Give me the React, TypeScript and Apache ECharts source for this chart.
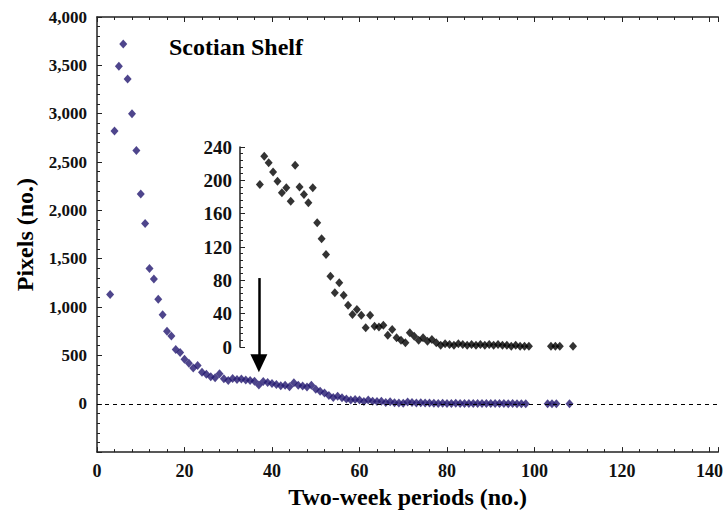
import React, { useEffect, useRef } from "react";
import * as echarts from "echarts";

// Two-week periods (x) and pixel counts (y)
const periods = [
  3, 4, 5, 6, 7, 8, 9, 10, 11, 12, 13, 14, 15, 16, 17, 18, 19, 20, 21, 22, 23, 24, 25, 26, 27, 28, 29, 30,
  31, 32, 33, 34, 35, 36, 37, 38, 39, 40, 41, 42, 43, 44, 45, 46, 47, 48, 49, 50, 51, 52, 53, 54, 55, 56,
  57, 58, 59, 60, 61, 62, 63, 64, 65, 66, 67, 68, 69, 70, 71, 72, 73, 74, 75, 76, 77, 78, 79, 80, 81, 82,
  83, 84, 85, 86, 87, 88, 89, 90, 91, 92, 93, 94, 95, 96, 97, 98, 103, 104, 105, 108,
];
const pixels = [
  1130, 2820, 3490, 3720, 3360, 3000, 2620, 2170, 1865, 1400, 1290, 1080, 920, 750, 700, 560, 530, 460, 420, 370,
  395, 325, 305, 280, 268, 310, 258, 240, 262, 250, 255, 245, 240, 232, 195, 229, 221, 210, 199, 185, 191, 175,
  218, 192, 183, 173, 191, 149, 130, 111, 85, 65, 77, 62, 50, 39, 45, 38, 23, 38, 25, 24, 26, 14, 21, 11, 8, 5,
  17, 13, 8, 11, 7, 9, 5, 2, 4, 3, 2, 4, 3, 2, 3, 2, 3, 2, 3, 2, 3, 2, 2, 1, 2, 1, 1, 1, 1, 1, 1, 1,
];
const insetStart = 37; // first period shown in the inset
const arrowPeriod = 37;
const arrowFrom = 1300;
const arrowTo = 420;

const mainYTicks = [-500, 0, 500, 1000, 1500, 2000, 2500, 3000, 3500, 4000];
const insetYTicks = [0, 40, 80, 120, 160, 200, 240];
const xTicks = [0, 20, 40, 60, 80, 100, 120, 140];

const FONT = "'Liberation Serif', 'Times New Roman', serif";

export default function App() {
  const ref = useRef<HTMLDivElement>(null);
  useEffect(() => {
    if (!ref.current) return;
    const chart = echarts.init(ref.current, undefined, { renderer: "svg" });
    const data = periods.map((p, i) => [p, pixels[i]]);
    const insetData = data.filter((d) => d[0] >= insetStart);
    const axisLineStyle = { color: "#222", width: 1.5 };
    const labelStyle = { fontFamily: FONT, fontWeight: "bold" as const, color: "#111" };
    chart.setOption({
      animation: false,
      backgroundColor: "#fff",
      title: {
        text: "Scotian Shelf",
        left: 164,
        top: 30,
        textStyle: { fontFamily: FONT, fontWeight: "bold", fontSize: 24, color: "#000" },
      },
      grid: [
        { left: 97, right: 3, top: 17, bottom: 58 },
        { left: 240, right: 3, top: 147, bottom: 167 },
      ],
      xAxis: [
        {
          type: "value",
          gridIndex: 0,
          min: xTicks[0],
          max: 142,
          interval: 20,
          name: "Two-week periods (no.)",
          nameLocation: "middle",
          nameGap: 27,
          nameTextStyle: { ...labelStyle, fontSize: 24, color: "#000" },
          axisLine: { show: true, onZero: false, lineStyle: axisLineStyle },
          axisTick: { show: true, inside: true, length: 5, lineStyle: { color: "#222" } },
          minorTick: { show: true, splitNumber: 5, length: 3, lineStyle: { color: "#222" } },
          splitLine: { show: false },
          axisLabel: {
            ...labelStyle,
            fontSize: 18,
            margin: 10,
            formatter: (v: number) => (xTicks.includes(v) ? String(v) : ""),
          },
        },
        {
          type: "value",
          gridIndex: 0,
          position: "top",
          min: xTicks[0],
          max: 142,
          interval: 20,
          axisLine: { show: true, onZero: false, lineStyle: axisLineStyle },
          axisTick: { show: true, inside: true, length: 5, lineStyle: { color: "#222" } },
          minorTick: { show: true, splitNumber: 5, length: 3, lineStyle: { color: "#222" } },
          splitLine: { show: false },
          axisLabel: { show: false },
        },
        {
          type: "value",
          gridIndex: 1,
          min: 32.5,
          max: 142,
          show: false,
        },
      ],
      yAxis: [
        {
          type: "value",
          gridIndex: 0,
          min: mainYTicks[0],
          max: mainYTicks[mainYTicks.length - 1],
          interval: 500,
          name: "Pixels (no.)",
          nameLocation: "middle",
          nameGap: 60,
          nameTextStyle: { ...labelStyle, fontSize: 24, color: "#000" },
          axisLine: { show: true, onZero: false, lineStyle: axisLineStyle },
          axisTick: { show: true, inside: true, length: 5, lineStyle: { color: "#222" } },
          minorTick: { show: true, splitNumber: 5, length: 3, lineStyle: { color: "#222" } },
          splitLine: { show: false },
          axisLabel: {
            ...labelStyle,
            fontSize: 17,
            margin: 10,
            formatter: (v: number) => (v < 0 ? "" : v.toLocaleString("en-US")),
          },
        },
        {
          type: "value",
          gridIndex: 1,
          min: insetYTicks[0],
          max: insetYTicks[insetYTicks.length - 1],
          interval: 40,
          axisLine: { show: true, onZero: false, lineStyle: axisLineStyle },
          axisTick: { show: true, inside: true, length: 5, lineStyle: { color: "#222" } },
          minorTick: { show: true, splitNumber: 5, length: 3, lineStyle: { color: "#222" } },
          splitLine: { show: false },
          axisLabel: { ...labelStyle, fontSize: 19, margin: 8 },
        },
      ],
      series: [
        {
          type: "scatter",
          xAxisIndex: 0,
          yAxisIndex: 0,
          data,
          symbol: "diamond",
          symbolSize: [8, 9],
          itemStyle: { color: "#22166f" },
          z: 3,
          markLine: {
            silent: true,
            animation: false,
            symbol: ["none", "none"],
            label: { show: false },
            lineStyle: { type: [4, 4], color: "#000", width: 1.2 },
            data: [
              { yAxis: 0 },
              [
                {
                  coord: [arrowPeriod, arrowFrom],
                  symbol: "none",
                  lineStyle: { type: "solid", color: "#000", width: 2.5 },
                },
                { coord: [arrowPeriod, arrowTo], symbol: "triangle", symbolSize: [17, 18] },
              ],
            ],
          },
        },
        {
          type: "scatter",
          xAxisIndex: 2,
          yAxisIndex: 1,
          data: insetData,
          symbol: "diamond",
          symbolSize: [8, 9],
          itemStyle: { color: "#000" },
          z: 4,
        },
      ],
    });
    return () => chart.dispose();
  }, []);
  return <div ref={ref} style={{ width: 726, height: 514, position: "absolute", left: 0, top: 0 }} />;
}
